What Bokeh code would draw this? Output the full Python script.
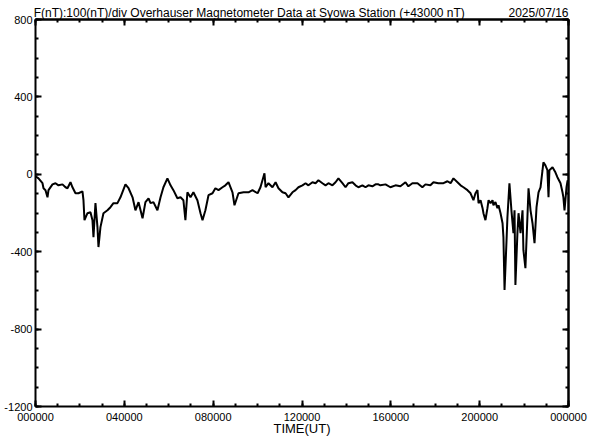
from bokeh.plotting import figure
from bokeh.models import LinearAxis, FixedTicker
from bokeh.embed import file_html
from bokeh.resources import INLINE

# ---- data (time in hours UT, F in nT relative to 43000 nT) ----
hours = [0.00, 0.135, 0.315, 0.36, 0.45, 0.54, 0.585, 0.765, 0.90, 1.035, 1.215, 1.35, 1.44,
         1.575, 1.665, 1.80, 1.935, 2.115, 2.16, 2.205, 2.34, 2.475, 2.565, 2.61, 2.70, 2.79,
         2.835, 2.925, 3.06, 3.24, 3.375, 3.51, 3.69, 3.825, 4.05, 4.19, 4.37, 4.50, 4.64,
         4.82, 4.95, 5.09, 5.18, 5.31, 5.49, 5.63, 5.76, 5.94, 6.08, 6.21, 6.39, 6.53, 6.66,
         6.75, 6.84, 6.98, 7.11, 7.29, 7.43, 7.52, 7.65, 7.79, 7.97, 8.10, 8.24, 8.42, 8.55,
         8.69, 8.87, 8.96, 9.14, 9.37, 9.59, 9.77, 10.00, 10.13, 10.31, 10.36, 10.49, 10.67,
         10.81, 10.94, 11.12, 11.26, 11.39, 11.57, 11.71, 11.84, 12.02, 12.16, 12.29, 12.47,
         12.61, 12.74, 12.92, 13.06, 13.19, 13.37, 13.51, 13.64, 13.82, 13.96, 14.09, 14.27,
         14.41, 14.54, 14.72, 14.86, 14.99, 15.17, 15.31, 15.44, 15.53, 15.76, 15.98, 16.21,
         16.43, 16.66, 16.79, 16.97, 17.20, 17.42, 17.56, 17.78, 17.92, 18.14, 18.37, 18.55,
         18.69, 18.82, 19.00, 19.14, 19.27, 19.45, 19.59, 19.72, 19.81, 19.90, 19.95, 20.04,
         20.13, 20.17, 20.26, 20.35, 20.40, 20.49, 20.58, 20.62, 20.71, 20.80, 20.85, 20.94,
         21.03, 21.07, 21.12, 21.21, 21.25, 21.34, 21.43, 21.52, 21.57, 21.61, 21.70, 21.75,
         21.84, 21.93, 21.97, 22.06, 22.15, 22.20, 22.29, 22.38, 22.47, 22.56, 22.65, 22.74,
         22.83, 22.87, 22.96, 23.05, 23.10, 23.14, 23.28, 23.41, 23.50, 23.64, 23.73, 23.77,
         23.82, 23.91, 23.96, 24.00]
f_values = [-10, -21, -46, -72, -82, -119, -82, -52, -46, -57, -52, -67, -72,
            -41, -67, -98, -98, -88, -134, -237, -201, -196, -237, -325, -149, -273,
            -376, -273, -201, -186, -170, -149, -149, -119, -52, -72, -119, -186, -144,
            -227, -144, -124, -149, -144, -186, -119, -67, -21, -57, -82, -124, -119, -134,
            -237, -93, -119, -93, -134, -201, -237, -186, -108, -98, -72, -82, -67, -57,
            -41, -93, -160, -98, -93, -93, -82, -98, -67, 5, -67, -46, -67,
            -41, -72, -93, -98, -119, -93, -82, -67, -57, -46, -57, -41,
            -46, -31, -46, -57, -46, -57, -41, -21, -46, -67, -46, -41,
            -57, -67, -57, -67, -57, -62, -52, -52, -57, -52, -67, -57,
            -62, -41, -62, -46, -46, -67, -52, -57, -41, -46, -46, -36,
            -46, -21, -41, -57, -67, -82, -98, -134, -98, -82, -149, -134,
            -175, -201, -237, -175, -134, -149, -134, -160, -144, -175, -160, -201,
            -253, -325, -598, -340, -222, -46, -186, -304, -186, -572, -304, -201,
            -304, -186, -392, -485, -222, -72, -186, -253, -356, -170, -93, -67,
            21, 62, 46, 21, -119, 21, 36, 10, -15, -46, -93, -119,
            -186, -67, -31, -57]

x_ticks = [0, 4, 8, 12, 16, 20, 24]
x_tick_labels = ["000000", "040000", "080000", "120000", "160000", "200000", "000000"]
x_minor = list(range(0, 25))
y_ticks = [-1200, -800, -400, 0, 400, 800]
y_tick_labels = ["-1200", "-800", "-400", "0", "400", "800"]
y_minor = list(range(-1200, 801, 100))

header_texts = ["F(nT):100(nT)/div  Overhauser Magnetometer Data at Syowa Station (+43000 nT)",
                "2025/07/16"]
header_centers = [9.7, 22.65]   # hour positions of the header texts' centres
x_title = "TIME(UT)"

FONT = "Liberation Sans"

p = figure(width=590, height=438, x_range=(0, 24), y_range=(-1200, 800),
           output_backend="svg", toolbar_location=None,
           min_border_left=35, min_border_right=22, min_border_top=19, min_border_bottom=31,
           x_axis_location=None, y_axis_location=None)
p.xgrid.visible = False
p.ygrid.visible = False
p.outline_line_color = None
p.background_fill_color = "white"
p.border_fill_color = "white"

p.line(hours, f_values, line_color="black", line_width=2)


def base(ax):
    ax.axis_line_color = "black"
    ax.axis_line_width = 2
    ax.major_tick_line_color = "black"
    ax.major_tick_line_width = 2
    ax.minor_tick_line_color = "black"
    ax.minor_tick_line_width = 2
    ax.major_tick_in = 6
    ax.major_tick_out = 0
    ax.minor_tick_in = 3
    ax.minor_tick_out = 0
    ax.major_label_text_font = FONT
    ax.major_label_text_font_size = "11px"
    ax.major_label_text_color = "black"
    ax.major_label_standoff = 0


def tick_only(minor, length):
    ax = LinearAxis(ticker=FixedTicker(ticks=[], minor_ticks=minor))
    base(ax)
    ax.minor_tick_in = length
    return ax


# bottom axis with labels
xb = LinearAxis(ticker=FixedTicker(ticks=x_ticks, minor_ticks=x_minor),
                major_label_overrides=dict(zip(x_ticks, x_tick_labels)))
base(xb)
xb.major_label_standoff = 6
xb.axis_label = x_title
xb.axis_label_text_font = FONT
xb.axis_label_text_font_size = "13px"
xb.axis_label_text_font_style = "normal"
xb.axis_label_text_color = "black"
xb.axis_label_standoff = -3
p.add_layout(xb, "below")

# left axis with labels
yl = LinearAxis(ticker=FixedTicker(ticks=y_ticks, minor_ticks=y_minor),
                major_label_overrides=dict(zip(y_ticks, y_tick_labels)))
base(yl)
yl.major_label_standoff = 3
p.add_layout(yl, "left")

# top: hourly and 4-hourly tick marks, then the header texts
p.add_layout(tick_only(x_minor, 3), "above")
p.add_layout(tick_only(x_ticks, 6), "above")
xt = LinearAxis(ticker=FixedTicker(ticks=header_centers, minor_ticks=[]),
                major_label_overrides=dict(zip(header_centers, header_texts)))
base(xt)
xt.axis_line_color = None
xt.major_tick_line_color = None
xt.minor_tick_line_color = None
xt.major_tick_in = 0
xt.minor_tick_in = 0
xt.major_label_text_font_size = "12px"
p.add_layout(xt, "above")

# right: tick marks only
p.add_layout(tick_only(y_minor, 3), "right")
p.add_layout(tick_only(y_ticks, 6), "right")

open("out.html", "w").write(file_html(p, INLINE))
